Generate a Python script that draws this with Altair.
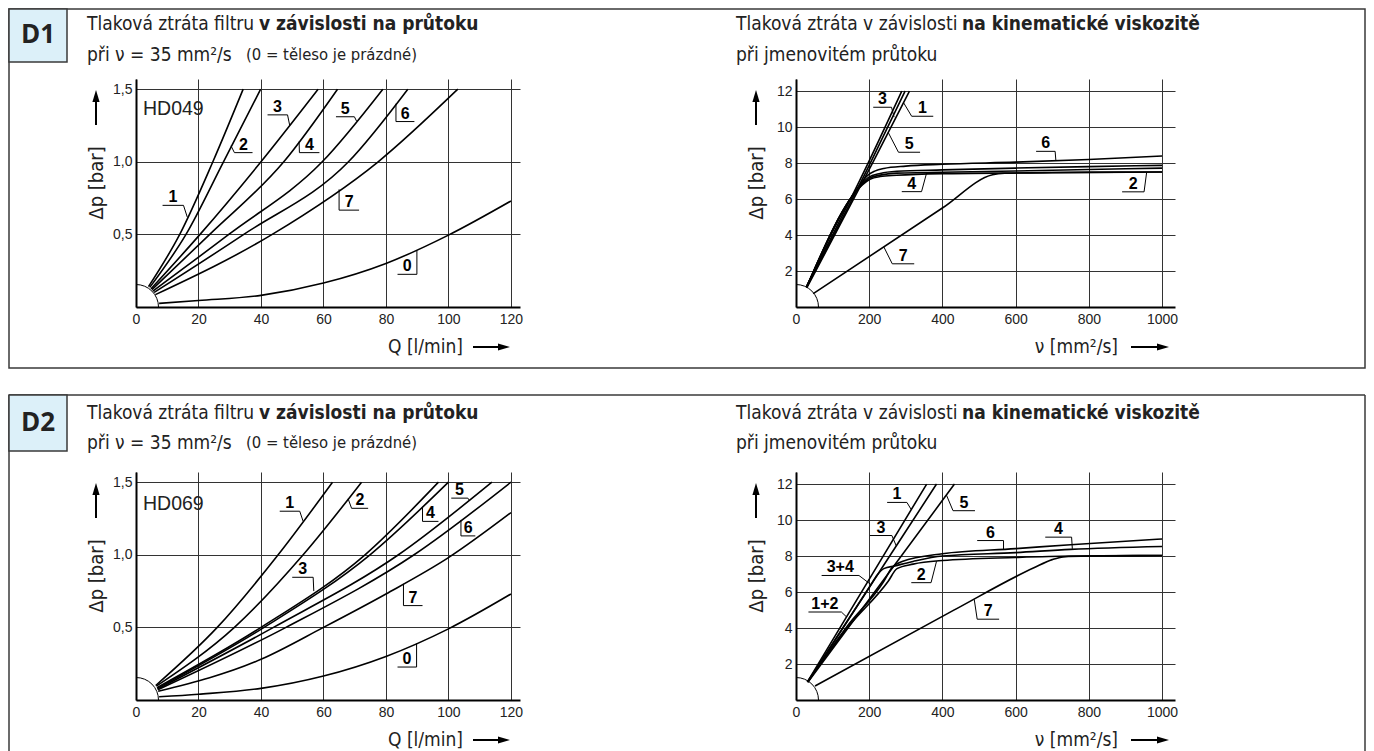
import altair as alt
import pandas as pd

# ============ D1 left: HD049, Δp [bar] vs Q [l/min] ============
D1L_Q = {
    "0": [7.4, 20, 40, 60, 80, 100, 120],
    "1": [4.0, 14, 24.6, 34.3],
    "2": [4.4, 16, 28, 39.9],
    "3": [4.8, 20.5, 40, 58.3],
    "4": [5.1, 23.6, 47.3, 64.5],
    "5": [5.4, 29.7, 59.6, 79],
    "6": [5.8, 34.5, 68, 87],
    "7": [6.2, 43.6, 77.5, 103],
}
D1L_DP = {
    "0": [0.025, 0.045, 0.08, 0.165, 0.30, 0.495, 0.73],
    "1": [0.14, 0.5, 1.0, 1.5],
    "2": [0.135, 0.5, 1.0, 1.5],
    "3": [0.125, 0.5, 1.0, 1.5],
    "4": [0.12, 0.5, 1.0, 1.5],
    "5": [0.11, 0.5, 1.0, 1.5],
    "6": [0.10, 0.5, 1.0, 1.5],
    "7": [0.085, 0.5, 1.0, 1.5],
}
D1L_LAB = ["1", "2", "3", "4", "5", "6", "7", "0"]
D1L_UX1 = [8.5, 31.5, 42.1, 52.3, 64.0, 83.2, 65.0, 83.7]
D1L_UX2 = [15.2, 37.3, 48.5, 58.7, 69.9, 89.1, 71.4, 89.9]
D1L_UY = [0.70, 1.063, 1.323, 1.063, 1.31, 1.277, 0.667, 0.225]
D1L_SIDE = ["R", "L", "R", "L", "R", "L", "L", "R"]
D1L_EX = [16.4, 30.4, 49.2, 52.2, 70.6, 83.2, 65.0, 89.9]
D1L_EY = [0.62, 1.11, 1.25, 1.14, 1.28, 1.40, 0.81, 0.39]

# ============ D1 right: Δp [bar] vs ν [mm²/s] ============
D1R_NU = {
    "3": [28, 197, 289],
    "1": [29, 203, 298],
    "5": [30, 209, 310],
    "6": [29, 175, 195, 215, 240, 300, 400, 600, 800, 1000],
    "x": [29, 178, 198, 230, 275, 400, 600, 800, 1000],
    "4": [29, 180, 200, 230, 275, 357, 600, 800, 1000],
    "2": [29, 182, 202, 230, 275, 400, 600, 800, 1000],
    "7": [47, 400, 537, 570, 700, 1000],
}
D1R_DP = {
    "3": [1.12, 8.0, 12.0],
    "1": [1.10, 8.0, 12.0],
    "5": [1.08, 8.0, 12.0],
    "6": [1.1, 6.8, 7.3, 7.55, 7.7, 7.83, 7.93, 8.05, 8.2, 8.39],
    "x": [1.1, 6.8, 7.2, 7.42, 7.54, 7.62, 7.72, 7.8, 7.87],
    "4": [1.1, 6.8, 7.15, 7.33, 7.44, 7.47, 7.56, 7.64, 7.72],
    "2": [1.1, 6.8, 7.1, 7.25, 7.32, 7.41, 7.45, 7.48, 7.5],
    "7": [0.74, 5.5, 7.35, 7.43, 7.47, 7.5],
}
D1R_LAB = ["3", "1", "5", "6", "4", "2", "7"]
D1R_UX1 = [211, 316, 280, 656, 289, 891, 263]
D1R_UX2 = [261, 375, 339, 708, 343, 951, 323]
D1R_UY = [11.1, 10.6, 8.6, 8.65, 6.41, 6.4, 2.4]
D1R_SIDE = ["R", "L", "L", "R", "R", "R", "L"]
D1R_EX = [268, 294, 252, 710, 357, 958, 240]
D1R_EY = [10.55, 11.35, 9.7, 8.14, 7.46, 7.48, 3.34]

# ============ D2 left: HD069, Δp [bar] vs Q [l/min] ============
D2L_Q = {
    "0": [7.4, 20, 40, 60, 80, 100, 120],
    "1": [6.3, 26, 45.5, 62.9],
    "2": [6.5, 31.5, 53.5, 72.2],
    "3": [6.7, 40, 73.3, 96.8],
    "4": [6.8, 41, 74.9, 100],
    "5": [6.9, 44, 84, 113.9],
    "6": [7.0, 48, 89, 120],
    "7": [7.1, 40, 60, 80, 100, 120],
}
D2L_DP = {
    "0": [0.022, 0.04, 0.08, 0.165, 0.30, 0.49, 0.73],
    "1": [0.10, 0.5, 1.0, 1.5],
    "2": [0.095, 0.5, 1.0, 1.5],
    "3": [0.085, 0.5, 1.0, 1.5],
    "4": [0.08, 0.5, 1.0, 1.5],
    "5": [0.075, 0.5, 1.0, 1.5],
    "6": [0.07, 0.5, 1.0, 1.5],
    "7": [0.06, 0.28, 0.5, 0.73, 0.98, 1.29],
}
D2L_LAB = ["1", "2", "3", "4", "5", "6", "7", "0"]
D2L_UX1 = [46, 69, 50, 91.7, 100.9, 104, 85.6, 83.7]
D2L_UX2 = [52.4, 74.3, 56.7, 96.8, 106.2, 108.6, 91.7, 89.8]
D2L_UY = [1.30, 1.32, 0.845, 1.23, 1.39, 1.13, 0.65, 0.227]
D2L_SIDE = ["R", "L", "R", "L", "R", "L", "L", "R"]
D2L_EX = [53.5, 67.9, 56.9, 91.7, 106.7, 104, 85.6, 89.8]
D2L_EY = [1.23, 1.385, 0.75, 1.33, 1.375, 1.24, 0.80, 0.39]

# ============ D2 right: Δp [bar] vs ν [mm²/s] ============
D2R_NU = {
    "1": [31, 150, 357],
    "3": [32, 200, 384],
    "5": [33, 227, 433],
    "4": [32, 200, 222, 240, 270, 320, 400, 600, 750, 1000],
    "6": [32, 140, 240, 262, 290, 400, 600, 750, 1000],
    "2": [31, 140, 252, 276, 320, 400, 600, 750, 1000],
    "7": [52, 430, 650, 700, 730, 800, 1000],
}
D2R_DP = {
    "1": [1.0, 5.02, 12.0],
    "3": [1.0, 6.25, 12.0],
    "5": [1.0, 6.33, 12.0],
    "4": [1.0, 6.25, 6.95, 7.3, 7.45, 7.7, 8.0, 8.19, 8.37, 8.53],
    "6": [1.0, 4.1, 6.6, 7.35, 7.7, 8.13, 8.41, 8.63, 8.95],
    "2": [1.0, 4.0, 6.6, 7.3, 7.55, 7.75, 7.92, 8.0, 8.03],
    "7": [0.78, 4.98, 7.35, 7.8, 7.95, 8.0, 8.03],
}
D2R_LAB = ["1", "3", "3+4", "1+2", "5", "6", "4", "2", "7"]
D2R_UX1 = [249, 202, 70, 34, 429, 495, 681, 315, 495]
D2R_UX2 = [303, 262, 172, 124, 489, 567, 753, 369, 555]
D2R_UY = [10.98, 9.14, 6.92, 4.89, 10.52, 8.86, 9.05, 6.52, 4.49]
D2R_SIDE = ["R", "R", "R", "R", "L", "R", "R", "R", "L"]
D2R_EX = [315, 274, 205, 138, 411, 567, 755, 384, 487]
D2R_EY = [10.58, 8.56, 6.41, 4.62, 11.39, 8.36, 8.40, 7.71, 5.59]

Q_TICKS = [0, 20, 40, 60, 80, 100, 120]
DPQ_TICKS = [0.5, 1.0, 1.5]
NU_TICKS = [0, 200, 400, 600, 800, 1000]
DPNU_TICKS = [2, 4, 6, 8, 10, 12]

# ---------------- styling ----------------
COND = "Liberation Sans Narrow, DejaVu Sans Condensed, Open Sans, sans-serif"
ARIAL = "Liberation Sans, Arial, sans-serif"
INK = "#222222"
FRAME = "#3a3a3a"
ONE = alt.Data(values=[{"k": 1}])
COMMA = "replace(format(datum.value, '.1f'), '.', ',')"


def txt(x, y, s, size, weight="normal", font=COND, align="left", angle=0):
    return alt.Chart(ONE).mark_text(
        text=s, fontSize=size, fontWeight=weight, font=font, align=align,
        baseline="middle", angle=angle, color=INK,
    ).encode(x=alt.value(x), y=alt.value(y))


def hrule(x, x2, y, w=1.0, color="black"):
    return alt.Chart(ONE).mark_rule(color=color, strokeWidth=w).encode(
        x=alt.value(x), x2=alt.value(x2), y=alt.value(y))


def vrule(x, y, y2, w=1.0, color="black"):
    return alt.Chart(ONE).mark_rule(color=color, strokeWidth=w).encode(
        x=alt.value(x), y=alt.value(y), y2=alt.value(y2))


def head(x, y, path):
    return alt.Chart(ONE).mark_point(
        shape=path, size=144, filled=True, color="black", opacity=1, strokeWidth=0,
    ).encode(x=alt.value(x), y=alt.value(y))


UP = "M -0.6 1 L 0 -1 L 0.6 1 Z"
RIGHT = "M -1 -0.6 L 1 0 L -1 0.6 Z"


def rect(x, x2, y, y2, fill="transparent"):
    return alt.Chart(ONE).mark_rect(fill=fill, stroke=FRAME, strokeWidth=1.5).encode(
        x=alt.value(x), x2=alt.value(x2), y=alt.value(y), y2=alt.value(y2))


def axes_deco(xtitle, xt_right, arrow_x0, arrow_x1):
    return [
        txt(-39, 104, "Δp [bar]", 20, angle=270, align="center"),
        vrule(-40, 23, 46, w=2),
        head(-40, 17, UP),
        txt(xt_right, 268, xtitle, 19, align="right"),
        hrule(arrow_x0, arrow_x1, 268, w=2),
        head(arrow_x1 + 5, 268, RIGHT),
    ]


def panel(qd, dpd, lab, ux1, ux2, uy, side, ex, ey, xmax, ymax,
          xticks, yticks, comma, w, h, deco):
    rows = [{"s": k, "x": x, "y": y}
            for k in qd for x, y in zip(qd[k], dpd[k])]
    curves_df = pd.DataFrame(rows)
    labels_df = pd.DataFrame({
        "t": lab, "ux1": ux1, "ux2": ux2, "uy": uy,
        "tx": [(a + b) / 2 for a, b in zip(ux1, ux2)],
        "sx": [a if s == "L" else b for a, b, s in zip(ux1, ux2, side)],
        "ex": ex, "ey": ey,
    })
    xsc = alt.Scale(domain=[0, xmax], nice=False, zero=False)
    ysc = alt.Scale(domain=[0, ymax], nice=False, zero=False)
    common = dict(grid=True, gridColor="#333333", gridWidth=1, ticks=False,
                  domain=True, domainColor="black", domainWidth=2,
                  labelFont=ARIAL, labelFontSize=14, labelColor=INK,
                  labelOverlap=False, labelFlush=False, title=None)
    xaxis = alt.Axis(values=xticks, labelPadding=5, format="d", **common)
    if comma:
        yaxis = alt.Axis(values=yticks, labelPadding=4, labelExpr=COMMA, **common)
    else:
        yaxis = alt.Axis(values=yticks, labelPadding=4, format="d", **common)

    def X(f):
        return alt.X(f, type="quantitative", scale=xsc, axis=xaxis)

    def Y(f):
        return alt.Y(f, type="quantitative", scale=ysc, axis=yaxis)

    lines = alt.Chart(curves_df).mark_line(
        interpolate="monotone", color="black", strokeWidth=1.6
    ).encode(x=X("x"), y=Y("y"), detail="s:N")

    arc = alt.Chart(ONE).mark_point(
        shape="circle", size=2025, filled=False, color="black",
        strokeWidth=1, opacity=1, clip=True,
    ).encode(x=alt.datum(0, type="quantitative", scale=xsc, axis=xaxis),
             y=alt.datum(0, type="quantitative", scale=ysc, axis=yaxis))

    base = alt.Chart(labels_df)
    under = base.mark_rule(color="black", strokeWidth=1).encode(
        x=X("ux1"), x2="ux2", y=Y("uy"))
    leader = base.mark_rule(color="black", strokeWidth=1).encode(
        x=X("sx"), x2="ex", y=Y("uy"), y2="ey")
    texts = base.mark_text(
        font=ARIAL, fontSize=16, fontWeight="bold", color="black",
        baseline="alphabetic", dy=-3,
    ).encode(x=X("tx"), y=Y("uy"), text="t:N")

    return alt.layer(lines, arc, under, leader, texts, *deco).properties(
        width=w, height=h)


WL, WR, H = 384, 379, 228
QMAX, DPQMAX = 122.9, 1.57
NUMAX, DPNUMAX = 1035.5, 12.67

# ---- decorations row 1 ----
deco_d1l = [
    rect(-127, 1229, -70, 289),
    rect(-127, -69, -70, -17, fill="#dcf0f9"),
    txt(-98, -44, "D1", 26, weight="bold", font="Open Sans, sans-serif", align="center"),
    txt(-49, -55.5, "Tlaková ztráta filtru ", 19),
    txt(123, -55.5, "v závislosti na průtoku", 19, weight="bold"),
    txt(-49, -24, "při  ν = 35 mm²/s", 19),
    txt(110, -24, "(0 = těleso je prázdné)", 16.5),
    txt(7, 30, "HD049", 19.5, font=ARIAL),
] + axes_deco("Q [l/min]", 327, 337, 363)

deco_d1r = [
    txt(-60, -55.5, "Tlaková ztráta v závislosti ", 19),
    txt(166, -55.5, "na kinematické viskozitě", 19, weight="bold"),
    txt(-60, -24, "při jmenovitém průtoku", 19),
] + axes_deco("ν [mm²/s]", 322, 335, 362)

# ---- decorations row 2 ----
deco_d2l = [
    hrule(-127, 1229, -77, w=1.5, color=FRAME),
    vrule(-127, -77, 279, w=1.5, color=FRAME),
    vrule(1229, -77, 279, w=1.5, color=FRAME),
    rect(-127, -69, -77, -21, fill="#dcf0f9"),
    txt(-98, -49, "D2", 26, weight="bold", font="Open Sans, sans-serif", align="center"),
    txt(-49, -58.7, "Tlaková ztráta filtru ", 19),
    txt(123, -58.7, "v závislosti na průtoku", 19, weight="bold"),
    txt(-49, -28.7, "při  ν = 35 mm²/s", 19),
    txt(110, -28.7, "(0 = těleso je prázdné)", 16.5),
    txt(7, 32, "HD069", 19.5, font=ARIAL),
] + axes_deco("Q [l/min]", 327, 337, 363)

deco_d2r = [
    txt(-60, -58.7, "Tlaková ztráta v závislosti ", 19),
    txt(166, -58.7, "na kinematické viskozitě", 19, weight="bold"),
    txt(-60, -28.7, "při jmenovitém průtoku", 19),
] + axes_deco("ν [mm²/s]", 322, 335, 362)

p1 = panel(D1L_Q, D1L_DP, D1L_LAB, D1L_UX1, D1L_UX2, D1L_UY, D1L_SIDE, D1L_EX, D1L_EY,
           QMAX, DPQMAX, Q_TICKS, DPQ_TICKS, True, WL, H, deco_d1l)
p2 = panel(D1R_NU, D1R_DP, D1R_LAB, D1R_UX1, D1R_UX2, D1R_UY, D1R_SIDE, D1R_EX, D1R_EY,
           NUMAX, DPNUMAX, NU_TICKS, DPNU_TICKS, False, WR, H, deco_d1r)
p3 = panel(D2L_Q, D2L_DP, D2L_LAB, D2L_UX1, D2L_UX2, D2L_UY, D2L_SIDE, D2L_EX, D2L_EY,
           QMAX, DPQMAX, Q_TICKS, DPQ_TICKS, True, WL, H, deco_d2l)
p4 = panel(D2R_NU, D2R_DP, D2R_LAB, D2R_UX1, D2R_UX2, D2R_UY, D2R_SIDE, D2R_EX, D2R_EY,
           NUMAX, DPNUMAX, NU_TICKS, DPNU_TICKS, False, WR, H, deco_d2r)

chart = alt.concat(
    p1, p2, p3, p4, columns=2,
    spacing={"row": 165, "column": 276}, bounds="flush",
).properties(padding=0, background="white").configure_view(strokeWidth=0)

chart.save("out.html", embed_options={"renderer": "svg", "actions": False})
